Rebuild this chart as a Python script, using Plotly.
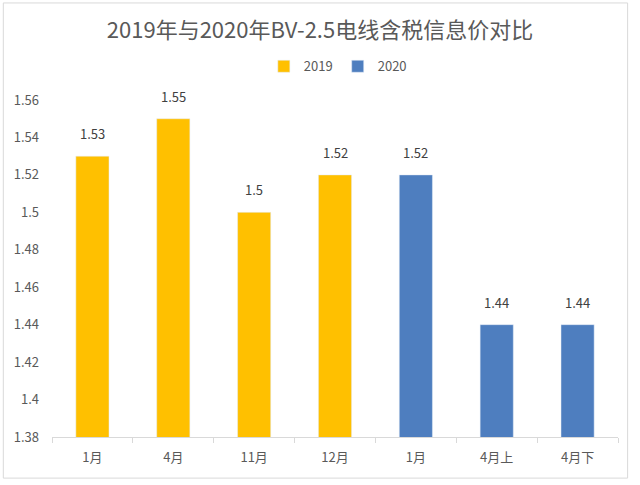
import plotly.graph_objects as go

categories = ["1月", "4月", "11月", "12月", "1月", "4月上", "4月下"]
values_2019 = [1.53, 1.55, 1.50, 1.52]
values_2020 = [1.52, 1.44, 1.44]
y_ticks = [1.38, 1.40, 1.42, 1.44, 1.46, 1.48, 1.50, 1.52, 1.54, 1.56]
y_tick_labels = ["1.38", "1.4", "1.42", "1.44", "1.46", "1.48", "1.5", "1.52", "1.54", "1.56"]

pos = list(range(len(categories)))
x2019 = pos[:len(values_2019)]
x2020 = pos[len(values_2019):]

FONT = "Noto Sans CJK SC, Noto Sans, sans-serif"

def fmt(v):
    return ("%.2f" % v).rstrip("0").rstrip(".")

fig = go.Figure()
fig.add_trace(go.Bar(x=x2019, y=values_2019, name="2019", marker_color="#FFC000", width=0.41))
fig.add_trace(go.Bar(x=x2020, y=values_2020, name="2020", marker_color="#4E7EBF", width=0.41))

for xs, vs in ((x2019, values_2019), (x2020, values_2020)):
    for xv, v in zip(xs, vs):
        fig.add_annotation(x=xv, y=v, text=fmt(v), showarrow=False, yanchor="bottom",
                           yshift=11, font=dict(size=13, color="#404040", family=FONT))

fig.update_layout(
    width=640, height=485,
    margin=dict(l=52, r=22, t=100, b=48),
    paper_bgcolor="white", plot_bgcolor="white",
    font=dict(family=FONT, color="#595959", size=13),
    title=dict(text="2019年与2020年BV-2.5电线含税信息价对比", x=0.5, xanchor="center",
               y=0.938, yanchor="middle", font=dict(size=22, color="#595959", family=FONT)),
    legend=dict(orientation="h", x=0.505, xanchor="center", y=1.1, yanchor="middle",
                font=dict(size=13, color="#595959"), itemwidth=30, traceorder="normal"),
    barmode="overlay",
    showlegend=True,
)
fig.update_xaxes(
    range=[-0.5, len(categories) - 0.5],
    tickvals=pos, ticktext=categories, ticks="",
    showline=True, linecolor="#D9D9D9", linewidth=1,
    showgrid=False, zeroline=False,
    tickfont=dict(size=13, color="#595959"), ticklabelstandoff=8,
    minor=dict(tickmode="array", tickvals=[p - 0.5 for p in pos] + [pos[-1] + 0.5],
               ticks="outside", ticklen=5, tickcolor="#D9D9D9", showgrid=False),
)
fig.update_yaxes(
    range=[y_ticks[0], y_ticks[-1]],
    tickvals=y_ticks, ticktext=y_tick_labels,
    showgrid=False, zeroline=False, showline=False,
    tickfont=dict(size=13, color="#595959"), ticklabelstandoff=12,
)
fig.add_shape(type="rect", xref="paper", yref="paper",
              x0=-0.086, x1=1.017, y0=-0.122, y1=1.288,
              line=dict(color="#D9D9D9", width=1), fillcolor="rgba(0,0,0,0)", layer="below")

fig.write_html("out.html", config={"displayModeBar": False},
               post_script="document.body.style.margin='0';")
